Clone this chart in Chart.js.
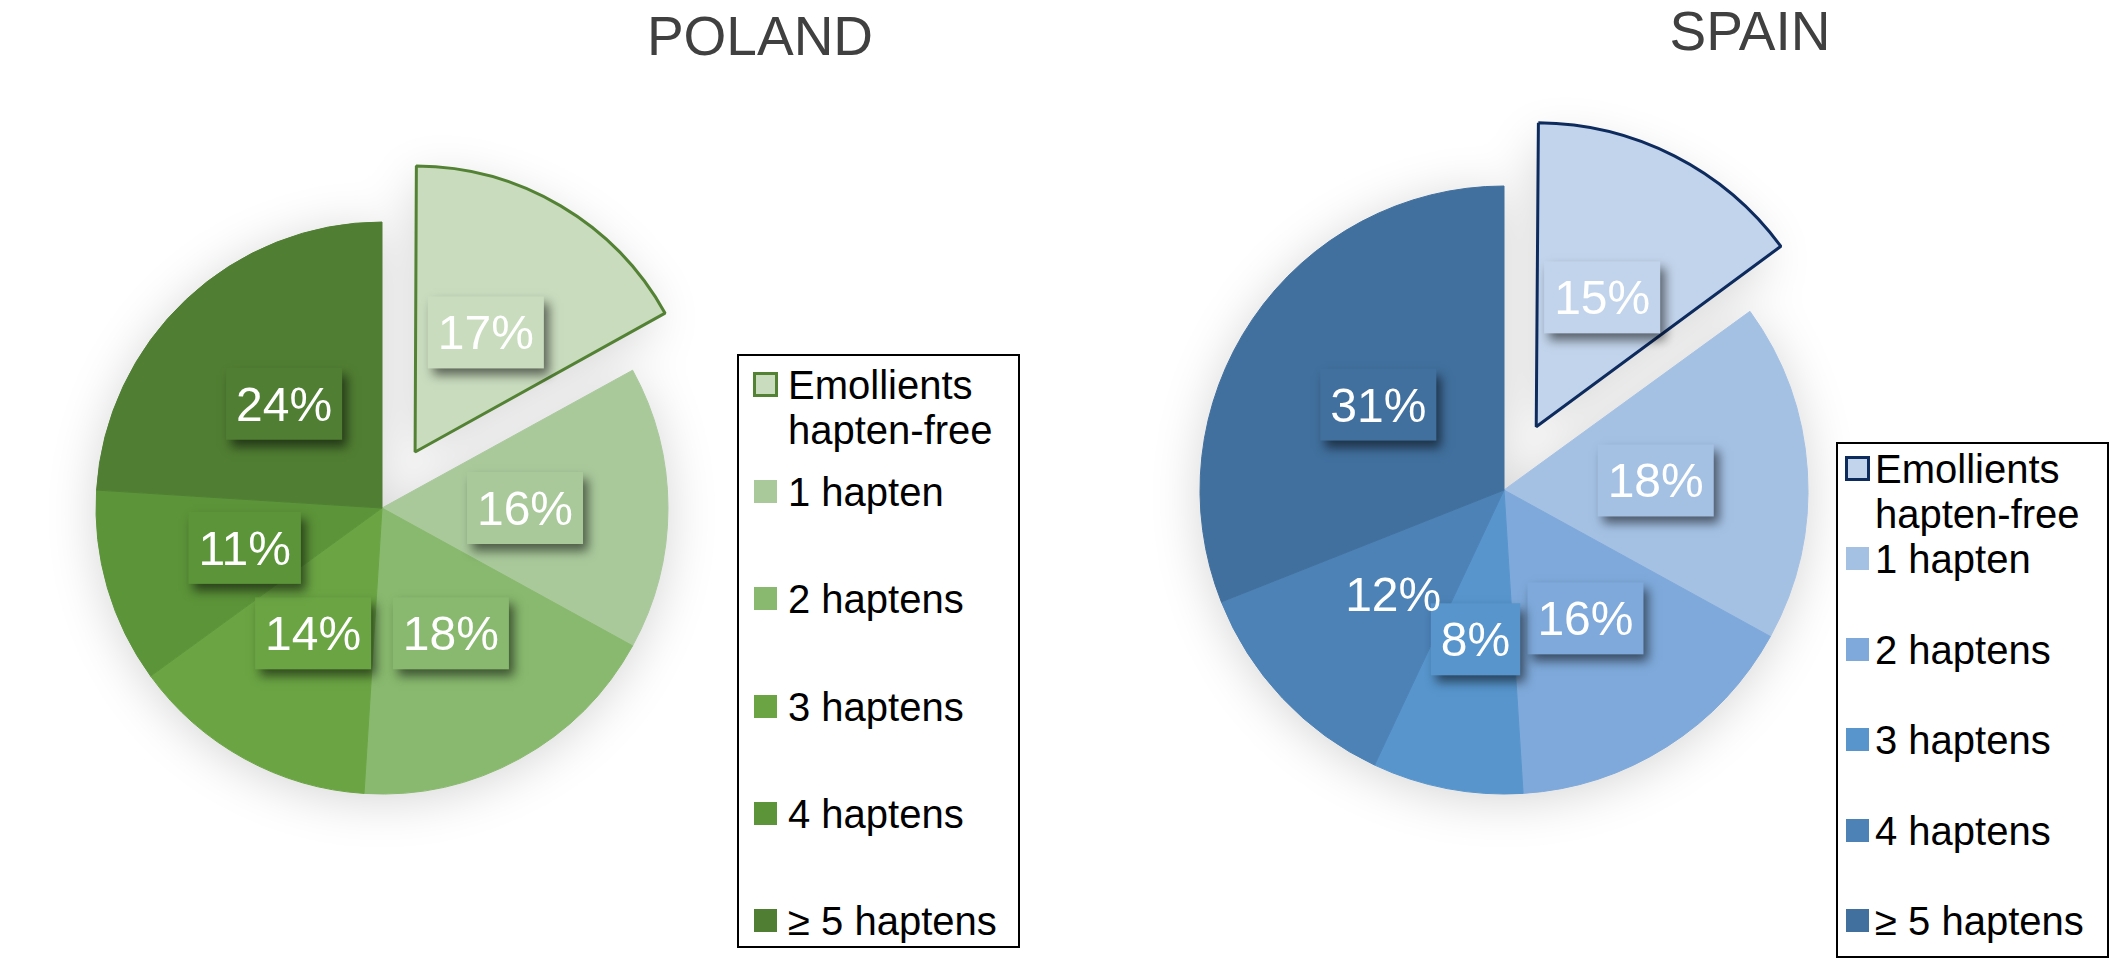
<!DOCTYPE html>
<html lang="en">
<head>
<meta charset="UTF-8">
<title>Emollients and haptens - Poland / Spain</title>
<script src="https://cdn.jsdelivr.net/npm/chart.js"></script>
<style>
  body { margin: 0; width: 2112px; height: 962px; background: #fff; position: relative; overflow: hidden;
         font-family: "Liberation Sans", Arial, sans-serif; }
  .title { position: absolute; width: 400px; text-align: center; font-size: 55px; line-height: 55px; color: #404040; }
  canvas { position: absolute; }
  .legend { position: absolute; border: 2px solid #000; background: #fff; box-sizing: border-box; z-index: 2; }
  .legend .item { position: absolute; font-size: 40px; line-height: 45px; color: #000; white-space: nowrap; }
  .legend .swatch { position: absolute; width: 23px; height: 23px; box-sizing: border-box; }
</style>
</head>
<body>
  <div class="title" style="left:560px; top:9px;">POLAND</div>
  <div class="title" style="left:1550px; top:4px;">SPAIN</div>

  <canvas id="polandChart" width="764" height="908" style="left:0; top:54px;"></canvas>
  <canvas id="spainChart" width="800" height="940" style="left:1104px; top:20px;"></canvas>

  <div class="legend" id="polandLegend" style="left:737px; top:354px; width:283px; height:594px;"></div>
  <div class="legend" id="spainLegend" style="left:1836px; top:442px; width:273px; height:516px;"></div>

<script>
const categories = ['Emollients\nhapten-free', '1 hapten', '2 haptens', '3 haptens', '4 haptens', '\u2265 5 haptens'];
const polandValues = [17, 16, 18, 14, 11, 24];
const spainValues = [15, 18, 16, 8, 12, 31];

const polandColors = ['#c9dcbe', '#a9c99b', '#88b96e', '#6aa443', '#5c9439', '#507e32'];
const spainColors = ['#c2d4eb', '#a4c1e4', '#7ea9da', '#5795cc', '#4c82b6', '#41709e'];

// v4 moves an exploded arc by offset/4
function arcShift(arc) {
    return (arc.options.offset || 0) / 4;
}

const pieShadow = {
    id: 'pieShadow',
    afterDatasetUpdate(chart, args) {
        // the exploded slice also gets a slightly bigger radius, take that back out
        args.meta.data.forEach(arc => {
            const t = arcShift(arc);
            if (!t) return;
            arc.outerRadius -= t * (1 - Math.sin(Math.min(Math.PI, arc.circumference)));
        });
    },
    beforeDatasetsDraw(chart) {
        const ctx = chart.ctx;
        const dpr = chart.currentDevicePixelRatio;
        const far = 5000;
        ctx.save();
        ctx.beginPath();
        chart.getDatasetMeta(0).data.forEach(arc => {
            const t = arcShift(arc);
            const mid = (arc.startAngle + arc.endAngle) / 2;
            const cx = arc.x + Math.cos(mid) * t - far;
            const cy = arc.y + Math.sin(mid) * t;
            ctx.moveTo(cx, cy);
            ctx.arc(cx, cy, arc.outerRadius, arc.startAngle, arc.endAngle);
            ctx.closePath();
        });
        // only the shadow lands on the canvas, the shape itself is far off to the left
        ctx.shadowColor = 'rgba(0,0,0,0.17)';
        ctx.shadowBlur = 50;
        ctx.shadowOffsetX = far * dpr;
        ctx.shadowOffsetY = 6 * dpr;
        ctx.fillStyle = '#000';
        ctx.fill();
        ctx.restore();
    }
};

const pieLabels = {
    id: 'pieLabels',
    afterDatasetsDraw(chart, args, opts) {
        const ctx = chart.ctx;
        const ds = chart.data.datasets[0];
        ctx.save();
        ctx.font = '48px "Liberation Sans", Arial, sans-serif';
        ctx.textAlign = 'center';
        ctx.textBaseline = 'alphabetic';
        chart.getDatasetMeta(0).data.forEach((arc, i) => {
            const mid = (arc.startAngle + arc.endAngle) / 2;
            const d = arcShift(arc) + arc.outerRadius / 2;
            const x = arc.x + Math.cos(mid) * d;
            const y = arc.y + Math.sin(mid) * d;
            const text = ds.data[i] + '%';
            const w = ctx.measureText(text).width + 20, h = 72;
            if (opts.boxed[i]) {
                ctx.save();
                ctx.shadowColor = 'rgba(0,0,0,0.55)';
                ctx.shadowBlur = 10;
                ctx.shadowOffsetX = 5;
                ctx.shadowOffsetY = 7;
                ctx.fillStyle = ds.backgroundColor[i];
                ctx.fillRect(x - w / 2, y - h / 2, w, h);
                ctx.restore();
            }
            ctx.fillStyle = '#fff';
            ctx.fillText(text, x, y + 17);
        });
        ctx.restore();
    }
};

function makePie(id, values, colors, edgeColor, radius, explode, boxed) {
    return new Chart(document.getElementById(id), {
        type: 'pie',
        data: {
            labels: categories,
            datasets: [{
                data: values,
                backgroundColor: colors,
                borderColor: colors.map((c, i) => i === 0 ? edgeColor : c),
                borderWidth: colors.map((c, i) => i === 0 ? 3 : 1),
                offset: values.map((v, i) => i === 0 ? explode * 4 : 0),
                radius: radius
            }]
        },
        options: {
            responsive: false,
            animation: false,
            layout: { padding: 0 },
            events: [],
            plugins: {
                legend: { display: false },
                tooltip: { enabled: false },
                pieLabels: { boxed: boxed }
            }
        },
        plugins: [pieShadow, pieLabels]
    });
}

function buildLegend(id, colors, edgeColor, firstRow, rowGap, swatchLeft, textLeft) {
    const box = document.getElementById(id);
    categories.forEach((label, i) => {
        const top = firstRow + i * rowGap - 22;
        const sw = document.createElement('div');
        sw.className = 'swatch';
        sw.style.left = swatchLeft + 'px';
        sw.style.top = (top + 10) + 'px';
        sw.style.background = colors[i];
        if (i === 0) {
            sw.style.border = '3px solid ' + edgeColor;
            sw.style.width = sw.style.height = '25px';
            sw.style.left = (swatchLeft - 1) + 'px';
            sw.style.top = (top + 9) + 'px';
        }
        const tx = document.createElement('div');
        tx.className = 'item';
        tx.style.left = textLeft + 'px';
        tx.style.top = top + 'px';
        tx.innerHTML = label.replace('\n', '<br>');
        box.append(sw, tx);
    });
}

makePie('polandChart', polandValues, polandColors, '#548235', 286, 65, [true, true, true, true, true, true]);
makePie('spainChart', spainValues, spainColors, '#0e2b5e', 304, 71, [true, true, true, true, false, true]);

buildLegend('polandLegend', polandColors, '#548235', 29, 107.2, 15, 49);
buildLegend('spainLegend', spainColors, '#0e2b5e', 25, 90.4, 8, 37);
</script>
</body>
</html>
